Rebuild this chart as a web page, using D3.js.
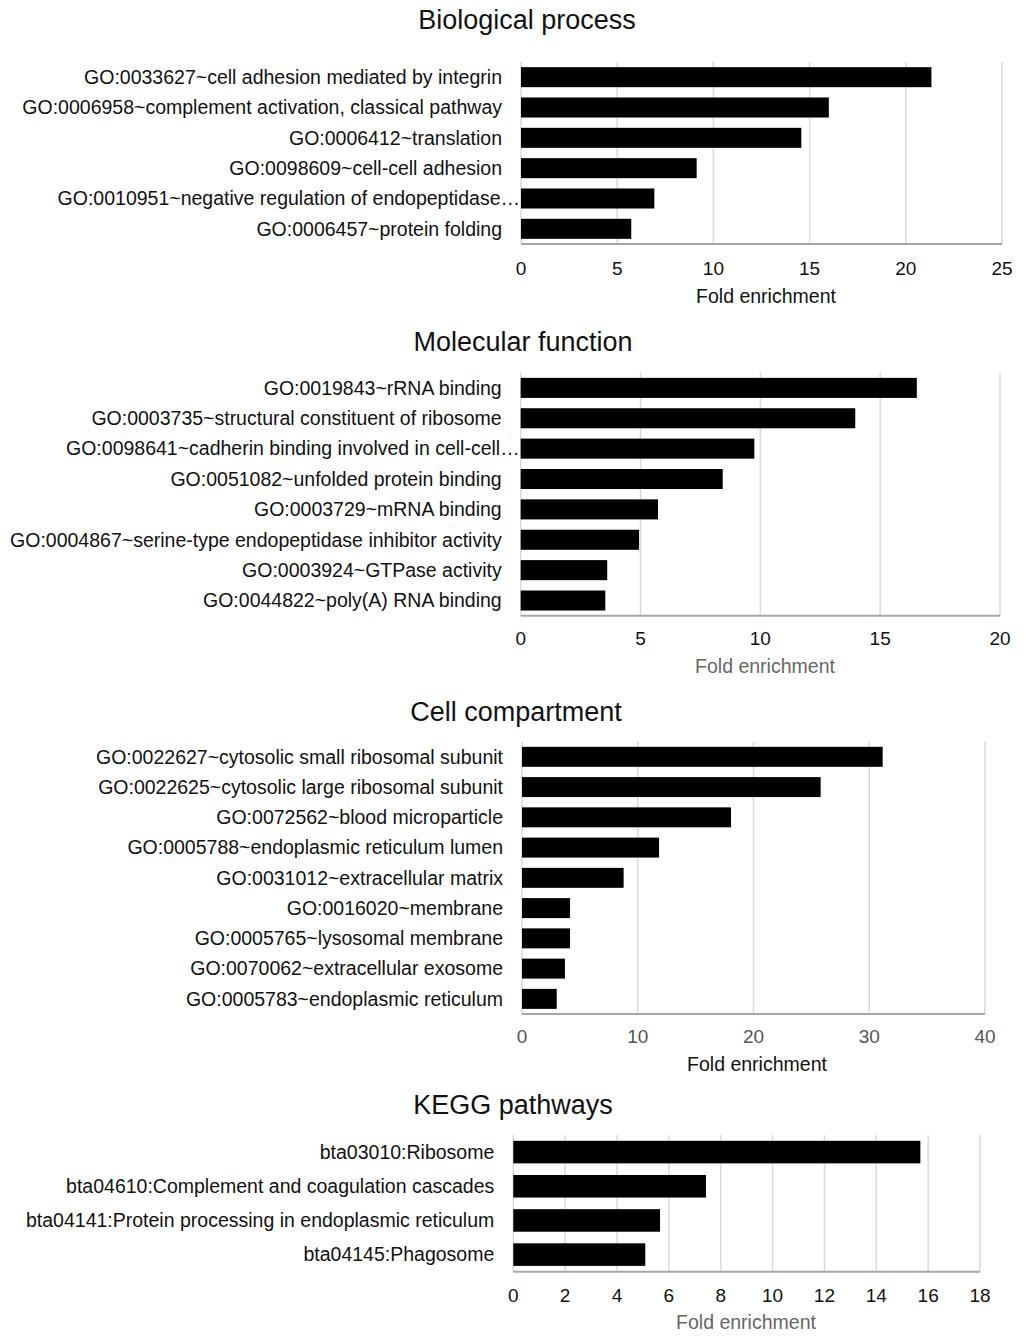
<!DOCTYPE html>
<html><head><meta charset="utf-8">
<script src="https://cdn.jsdelivr.net/npm/d3@7"></script>
<style>
html,body{margin:0;padding:0;background:#fff;}
text{font-family:"Liberation Sans",Arial,sans-serif;}
</style></head>
<body>
<svg id="chart" width="1032" height="1339"></svg>
<script>
// ---- data ----
const bpCategories = [
  "GO:0033627~cell adhesion mediated by integrin",
  "GO:0006958~complement activation, classical pathway",
  "GO:0006412~translation",
  "GO:0098609~cell-cell adhesion",
  "GO:0010951~negative regulation of endopeptidase…",
  "GO:0006457~protein folding"
];
const bpValues = [21.33, 16.0, 14.57, 9.13, 6.93, 5.73];
const bpTicks = [0, 5, 10, 15, 20, 25];

const mfCategories = [
  "GO:0019843~rRNA binding",
  "GO:0003735~structural constituent of ribosome",
  "GO:0098641~cadherin binding involved in cell-cell…",
  "GO:0051082~unfolded protein binding",
  "GO:0003729~mRNA binding",
  "GO:0004867~serine-type endopeptidase inhibitor activity",
  "GO:0003924~GTPase activity",
  "GO:0044822~poly(A) RNA binding"
];
const mfValues = [16.53, 13.96, 9.75, 8.43, 5.73, 4.94, 3.61, 3.53];
const mfTicks = [0, 5, 10, 15, 20];

const ccCategories = [
  "GO:0022627~cytosolic small ribosomal subunit",
  "GO:0022625~cytosolic large ribosomal subunit",
  "GO:0072562~blood microparticle",
  "GO:0005788~endoplasmic reticulum lumen",
  "GO:0031012~extracellular matrix",
  "GO:0016020~membrane",
  "GO:0005765~lysosomal membrane",
  "GO:0070062~extracellular exosome",
  "GO:0005783~endoplasmic reticulum"
];
const ccValues = [31.16, 25.8, 18.06, 11.84, 8.78, 4.15, 4.15, 3.71, 3.0];
const ccTicks = [0, 10, 20, 30, 40];

const keggCategories = [
  "bta03010:Ribosome",
  "bta04610:Complement and coagulation cascades",
  "bta04141:Protein processing in endoplasmic reticulum",
  "bta04145:Phagosome"
];
const keggValues = [15.7, 7.43, 5.66, 5.09];
const keggTicks = [0, 2, 4, 6, 8, 10, 12, 14, 16, 18];

const panelTitles = ["Biological process", "Molecular function", "Cell compartment", "KEGG pathways"];
const axisTitle = "Fold enrichment";

// ---- layout ----
const svg = d3.select("#chart");
const panels = [
  {title: panelTitles[0], cats: bpCategories, vals: bpValues, ticks: bpTicks,
   titleX: 527, titleY: 20, top: 62, bottom: 244, x0: 521, x1: 1002, tickY: 268, axTitleX: 766, axTitleY: 296, tickColor: "#111", axColor: "#111"},
  {title: panelTitles[1], cats: mfCategories, vals: mfValues, ticks: mfTicks,
   titleX: 523, titleY: 342, top: 372.7, bottom: 615.7, x0: 520.7, x1: 1000, tickY: 638, axTitleX: 765, axTitleY: 666, tickColor: "#111", axColor: "#666"},
  {title: panelTitles[2], cats: ccCategories, vals: ccValues, ticks: ccTicks,
   titleX: 516, titleY: 712, top: 741.7, bottom: 1014, x0: 522, x1: 985, tickY: 1036, axTitleX: 757, axTitleY: 1064, tickColor: "#555", axColor: "#111"},
  {title: panelTitles[3], cats: keggCategories, vals: keggValues, ticks: keggTicks,
   titleX: 513, titleY: 1105, top: 1135, bottom: 1271.7, x0: 513.3, x1: 980, tickY: 1295, axTitleX: 746, axTitleY: 1322, tickColor: "#111", axColor: "#666"}
];

panels.forEach(p => {
  const g = svg.append("g");
  const x = d3.scaleLinear().domain([p.ticks[0], p.ticks[p.ticks.length-1]]).range([p.x0, p.x1]);
  const y = d3.scaleBand().domain(p.cats).range([p.top, p.bottom]).paddingInner(0.34).paddingOuter(0.17);

  // title
  g.append("text").attr("x", p.titleX).attr("y", p.titleY).attr("dy", "0.35em")
    .attr("text-anchor", "middle").attr("font-size", 27).attr("fill", "#111").text(p.title);

  // gridlines
  g.selectAll("line.grid").data(p.ticks).join("line")
    .attr("x1", d => x(d)).attr("x2", d => x(d))
    .attr("y1", p.top).attr("y2", p.bottom)
    .attr("stroke", "#d9d9d9").attr("stroke-width", 1.5);

  // bars
  g.selectAll("rect.bar").data(p.vals).join("rect")
    .attr("x", x(0)).attr("y", (d, i) => y(p.cats[i]))
    .attr("width", d => x(d) - x(0)).attr("height", y.bandwidth())
    .attr("fill", "#000");

  // bottom axis line
  g.append("line").attr("x1", x.range()[0]).attr("x2", x.range()[1])
    .attr("y1", p.bottom).attr("y2", p.bottom)
    .attr("stroke", "#a6a6a6").attr("stroke-width", 2);

  // tick labels
  g.selectAll("text.tick").data(p.ticks).join("text")
    .attr("x", d => x(d)).attr("y", p.tickY).attr("dy", "0.35em")
    .attr("text-anchor", "middle").attr("font-size", 19).attr("fill", p.tickColor)
    .text(d => d);

  // axis title
  g.append("text").attr("x", p.axTitleX).attr("y", p.axTitleY).attr("dy", "0.35em")
    .attr("text-anchor", "middle").attr("font-size", 19.5).attr("fill", p.axColor).text(axisTitle);

  // category labels
  g.selectAll("text.cat").data(p.cats).join("text")
    .attr("x", d => d.endsWith("…") ? p.x0 - 1 : p.x0 - 19)
    .attr("y", d => y(d) + y.bandwidth() / 2).attr("dy", "0.35em")
    .attr("text-anchor", "end").attr("font-size", 19.5).attr("fill", "#111")
    .text(d => d);
});
</script>
</body></html>
